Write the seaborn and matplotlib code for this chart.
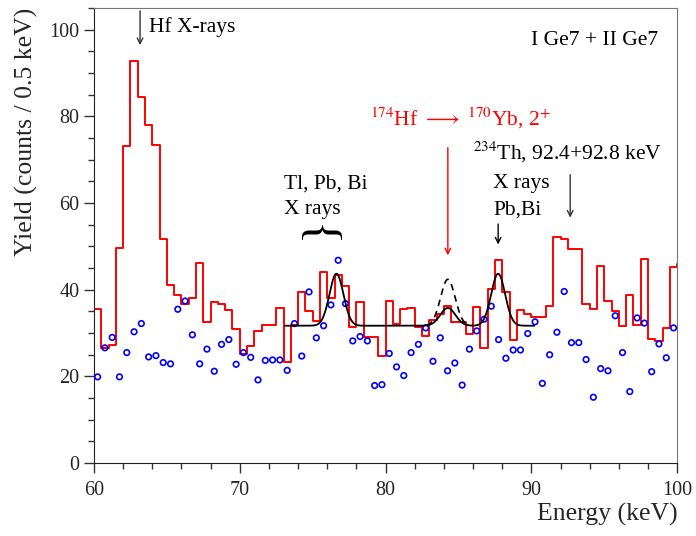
import numpy as np
import seaborn as sns
import matplotlib.pyplot as plt

# bin centres (0.5 keV bins) and yields
energy = np.arange(60.25, 100.0, 0.5)

red_counts = [35.5, 26.6, 27.2, 49.7, 73.2, 92.8, 84.4, 78.1, 73.4, 51.6,
              41.2, 38.8, 36.7, 38.1, 46.2, 32.6, 37.2, 36.6, 35.3, 31.0,
              25.2, 27.0, 30.5, 31.8, 31.8, 35.9, 23.3, 31.8, 39.4, 35.0,
              32.7, 44.2, 38.2, 43.3, 40.8, 31.5, 37.1, 29.0, 29.2, 24.7,
              37.5, 32.2, 35.5, 35.8, 31.3, 29.3, 33.0, 34.4, 36.2, 32.6,
              32.6, 29.9, 36.1, 26.6, 40.2, 46.8, 39.4, 28.5, 35.3, 34.3,
              33.8, 33.8, 36.3, 52.2, 51.6, 49.5, 49.3, 36.8, 35.6, 45.5,
              37.5, 35.1, 31.7, 38.8, 31.8, 47.2, 28.7, 28.2, 31.1, 45.3]
# neighbouring bins just outside the shown range
under_bin = 24.5
over_bin = 46.0

blue_counts = [19.9, 26.6, 29.0, 19.9, 25.5, 30.3, 32.2, 24.5, 24.8, 23.2,
               22.9, 35.5, 37.4, 29.6, 22.9, 26.3, 21.2, 27.4, 28.5, 22.8,
               25.5, 24.4, 19.2, 23.7, 23.8, 23.8, 21.4, 32.2, 24.7, 39.5,
               28.9, 31.7, 36.5, 46.8, 36.8, 28.2, 29.2, 28.2, 17.9, 18.1,
               25.3, 22.2, 20.2, 25.5, 27.4, 31.2, 23.5, 28.9, 21.3, 23.1,
               18.0, 26.3, 30.5, 33.2, 36.2, 28.5, 24.2, 26.1, 26.1, 29.9,
               32.6, 18.4, 25.0, 30.2, 39.6, 27.8, 27.8, 23.9, 15.2, 21.8,
               21.3, 34.0, 25.5, 16.5, 33.5, 32.3, 21.1, 27.5, 24.3, 31.2]

# fit: flat background + gaussians (centre, amplitude, sigma)
fit_range = (73.1, 90.2)
fit_bg = 31.7
fit_peaks = [(76.63, 12.0, 0.48), (84.27, 4.1, 0.52), (87.72, 12.0, 0.48)]
yb_peak_limit = (84.27, 10.7, 0.50)
dash_range = (82.8, 85.7)


def fit_curve(e, peaks):
    y = np.full_like(e, fit_bg)
    for c, a, s in peaks:
        y += a * np.exp(-0.5 * ((e - c) / s) ** 2)
    return y


sns.set_style('ticks')
plt.rcParams['font.family'] = ['Liberation Serif', 'DejaVu Serif']
plt.rcParams['mathtext.fontset'] = 'stix'

fig = plt.figure(figsize=(6.96, 5.36), dpi=100)
ax = fig.add_axes([0.135, 0.136, 0.838, 0.849])

# red histogram as steps
edges = np.concatenate([[energy[0] - 0.75], energy - 0.25, [energy[-1] + 0.25, energy[-1] + 0.75]])
step_y = np.concatenate([[under_bin], red_counts, [over_bin, over_bin]])
sns.lineplot(x=edges, y=step_y, drawstyle='steps-post', color='red', lw=1.4,
             sort=False, estimator=None, ax=ax)

# blue open circles
sns.scatterplot(x=energy, y=blue_counts, marker='o', s=16, facecolor='none',
                edgecolor='blue', linewidth=1.2, ax=ax, zorder=3)

# fit curves
e_fit = np.linspace(fit_range[0], fit_range[1], 600)
sns.lineplot(x=e_fit, y=fit_curve(e_fit, fit_peaks), color='black', lw=1.3,
             estimator=None, ax=ax, zorder=4)
e_dash = np.linspace(dash_range[0], dash_range[1], 200)
dash_peaks = [fit_peaks[0], yb_peak_limit, fit_peaks[2]]
sns.lineplot(x=e_dash, y=fit_curve(e_dash, dash_peaks), color='black', lw=1.2,
             linestyle=(0, (4, 3)), estimator=None, ax=ax, zorder=4)

ax.set_xlim(60, 100)
ax.set_ylim(0, 105)
ax.set_xticks(np.arange(60, 101, 10))
ax.set_xticks(np.arange(60, 101, 2), minor=True)
ax.set_yticks(np.arange(0, 101, 20))
ax.set_yticks(np.arange(0, 106, 5), minor=True)
ax.tick_params(which='major', length=7, width=1, labelsize=14.5, color='#333333')
ax.tick_params(which='minor', length=4, width=1, color='#333333')
ax.tick_params(axis='x', pad=6)
for side in ['left', 'bottom']:
    ax.spines[side].set_color('#222222')
for side in ['right', 'top']:
    ax.spines[side].set_color('#777777')

ax.set_xlabel('Energy (keV)', fontsize=18.5, loc='right', labelpad=2)
ax.set_ylabel('Yield (counts / 0.5 keV)', fontsize=18.5, loc='top', labelpad=8)

txt = dict(fontsize=15.5, color='black')
ax.text(98.7, 97.5, 'I Ge7 + II Ge7', ha='right', va='center', **txt)
ax.text(63.8, 100.5, 'Hf X-rays', ha='left', va='center', **txt)
ax.annotate('', xy=(63.16, 95.8), xytext=(63.16, 105),
            arrowprops=dict(arrowstyle='->', color='#333333', lw=1))

ax.text(73.0, 64.5, 'Tl, Pb, Bi', ha='left', va='center', **txt)
ax.text(73.0, 58.5, 'X rays', ha='left', va='center', **txt)
ax.text(75.1, 52.6, '{', rotation=-90, ha='center', va='center',
        fontsize=35, color='black')

ax.text(78.9, 79.5, r'$^{174}$Hf $\longrightarrow$ $^{170}$Yb, 2$^{+}$',
        ha='left', va='center', fontsize=15.5, color='red')
ax.annotate('', xy=(84.27, 47.3), xytext=(84.27, 73.4),
            arrowprops=dict(arrowstyle='->', color='red', lw=1))

ax.text(86.0, 71.8, r'$^{234}$Th, 92.4+92.8 keV', ha='left', va='center', **txt)
ax.annotate('', xy=(92.66, 56.0), xytext=(92.66, 67.2),
            arrowprops=dict(arrowstyle='->', color='#333333', lw=1))

ax.text(87.4, 64.5, 'X rays', ha='left', va='center', **txt)
ax.text(87.4, 58.5, 'Pb,Bi', ha='left', va='center', **txt)
ax.annotate('', xy=(87.72, 49.8), xytext=(87.72, 55.8),
            arrowprops=dict(arrowstyle='->', color='black', lw=1))

fig.savefig('out.png', dpi=100)
